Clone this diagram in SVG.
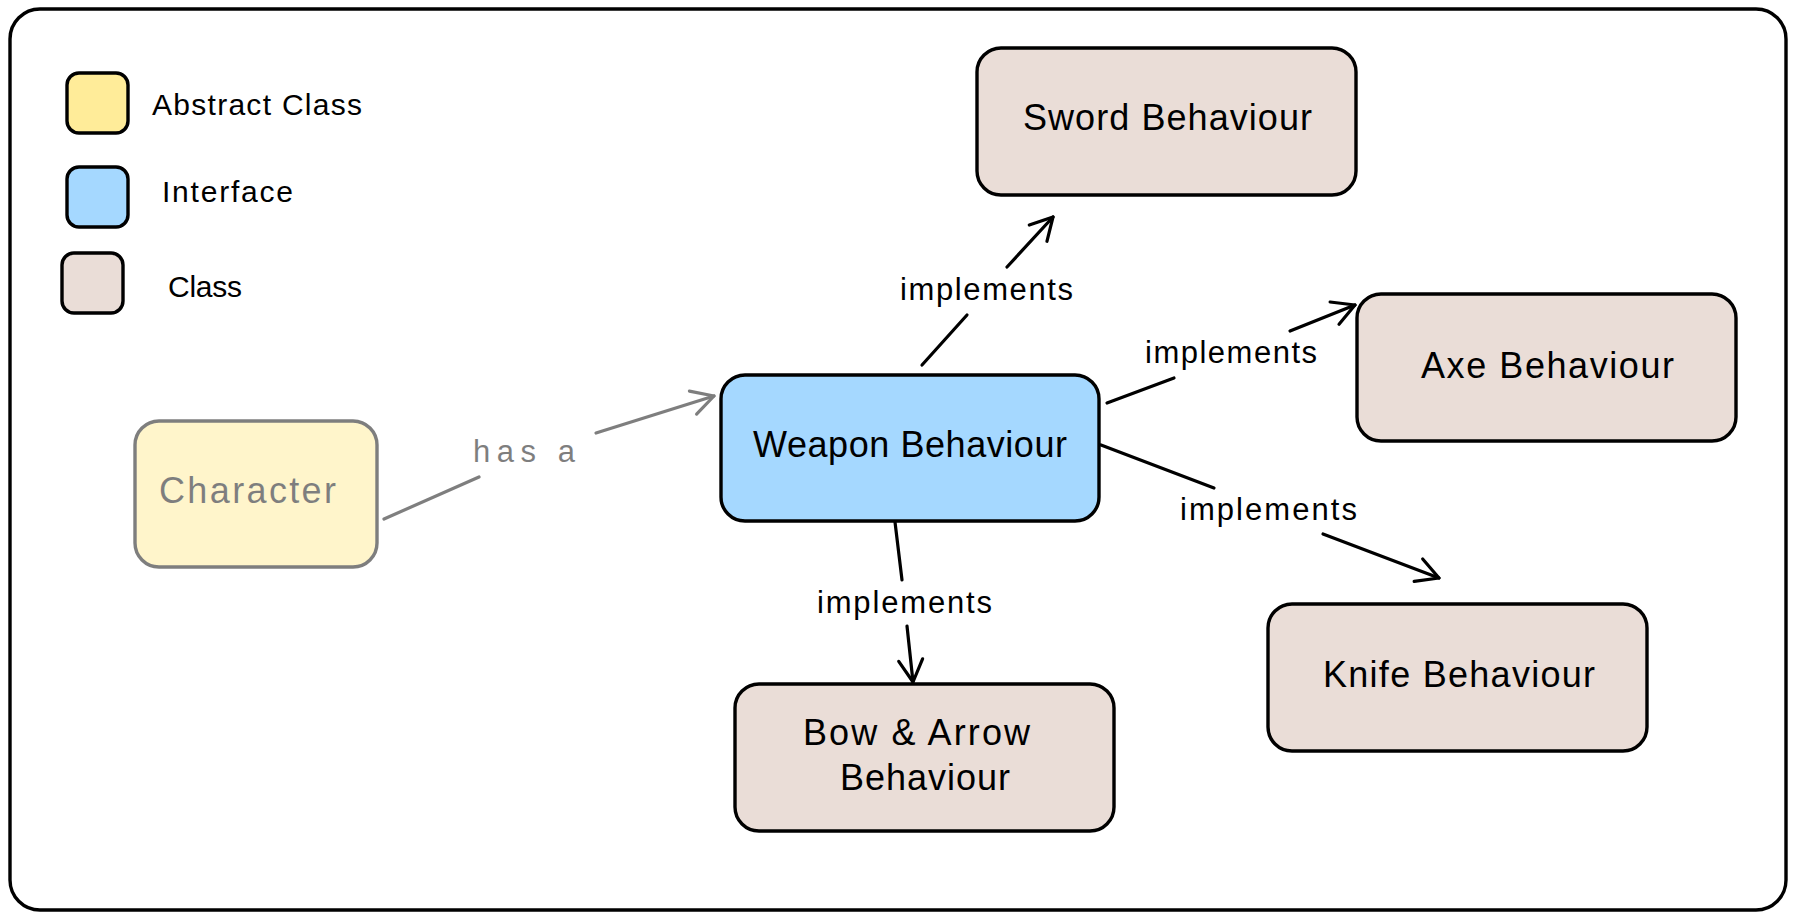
<svg xmlns="http://www.w3.org/2000/svg" width="1795" height="918" viewBox="0 0 1795 918">
  <style>
    .box { stroke: #000; stroke-width: 3.4; }
    .cls { fill: #eaddd7; }
    .ifc { fill: #a5d8ff; }
    .abs { fill: #ffec99; }
    .t { font-family: "Liberation Sans", Arial, sans-serif; fill: #000; }
    .node { font-size: 36px; }
    .lbl { font-size: 31px; }
    .leg { font-size: 30px; }
    .conn { stroke: #000; stroke-width: 3.2; fill: none; stroke-linecap: round; }
  </style>
  <defs>
    <marker id="arrow" markerUnits="userSpaceOnUse" viewBox="-28 -16 32 32" markerWidth="32" markerHeight="32" refX="0" refY="0" orient="auto">
      <path d="M-22,-12 L0,0 L-22,12" fill="none" stroke="#000" stroke-width="3.2" stroke-linecap="round" stroke-linejoin="round"/>
    </marker>
  </defs>
  <rect x="0" y="0" width="1795" height="918" fill="#fff"/>
  <rect id="frame" x="10" y="9" width="1776" height="901" rx="30" fill="#fff" stroke="#000" stroke-width="3.4"/>

  <g id="legend">
    <rect class="box abs" x="67" y="73" width="61" height="60" rx="12"/>
    <text class="t leg" x="152" y="115" textLength="210">Abstract Class</text>
    <rect class="box ifc" x="67" y="167" width="61" height="60" rx="12"/>
    <text class="t leg" x="162" y="202" textLength="131">Interface</text>
    <rect class="box cls" x="62" y="253" width="61" height="60" rx="12"/>
    <text class="t leg" x="168" y="297" textLength="74">Class</text>
  </g>

  <g id="connectors">
    <g id="conn-has-a" opacity="0.5">
      <line class="conn" x1="384" y1="519" x2="479" y2="477"/>
      <line class="conn" x1="596" y1="433" x2="714" y2="396" marker-end="url(#arrow)"/>
      <text class="t lbl" x="473" y="462" textLength="102">has a</text>
    </g>
    <g id="conn-sword">
      <line class="conn" x1="922" y1="365" x2="967" y2="315"/>
      <line class="conn" x1="1007" y1="267" x2="1053" y2="217" marker-end="url(#arrow)"/>
      <text class="t lbl" x="900" y="300" textLength="173">implements</text>
    </g>
    <g id="conn-axe">
      <line class="conn" x1="1107" y1="403" x2="1174" y2="378"/>
      <line class="conn" x1="1290" y1="331" x2="1355" y2="305" marker-end="url(#arrow)"/>
      <text class="t lbl" x="1145" y="363" textLength="172">implements</text>
    </g>
    <g id="conn-knife">
      <line class="conn" x1="1101" y1="445" x2="1214" y2="488"/>
      <line class="conn" x1="1323" y1="534" x2="1439" y2="578" marker-end="url(#arrow)"/>
      <text class="t lbl" x="1180" y="520" textLength="177">implements</text>
    </g>
    <g id="conn-bow">
      <line class="conn" x1="895" y1="522" x2="902" y2="580"/>
      <line class="conn" x1="907" y1="626" x2="913" y2="682" marker-end="url(#arrow)"/>
      <text class="t lbl" x="817" y="613" textLength="175">implements</text>
    </g>
  </g>

  <g id="node-character" opacity="0.5">
    <rect class="box abs" x="135" y="421" width="242" height="146" rx="24"/>
    <text class="t node" x="159" y="503" textLength="177">Character</text>
  </g>
  <g id="node-weapon">
    <rect class="box ifc" x="721" y="375" width="378" height="146" rx="24"/>
    <text class="t node" x="753" y="457" textLength="314">Weapon Behaviour</text>
  </g>
  <g id="node-sword">
    <rect class="box cls" x="977" y="48" width="379" height="147" rx="24"/>
    <text class="t node" x="1023" y="130" textLength="289">Sword Behaviour</text>
  </g>
  <g id="node-axe">
    <rect class="box cls" x="1357" y="294" width="379" height="147" rx="24"/>
    <text class="t node" x="1421" y="378" textLength="253">Axe Behaviour</text>
  </g>
  <g id="node-knife">
    <rect class="box cls" x="1268" y="604" width="379" height="147" rx="24"/>
    <text class="t node" x="1323" y="687" textLength="272">Knife Behaviour</text>
  </g>
  <g id="node-bow">
    <rect class="box cls" x="735" y="684" width="379" height="147" rx="24"/>
    <text class="t node" x="803" y="745" textLength="227">Bow &amp; Arrow</text>
    <text class="t node" x="840" y="790" textLength="170">Behaviour</text>
  </g>
</svg>
